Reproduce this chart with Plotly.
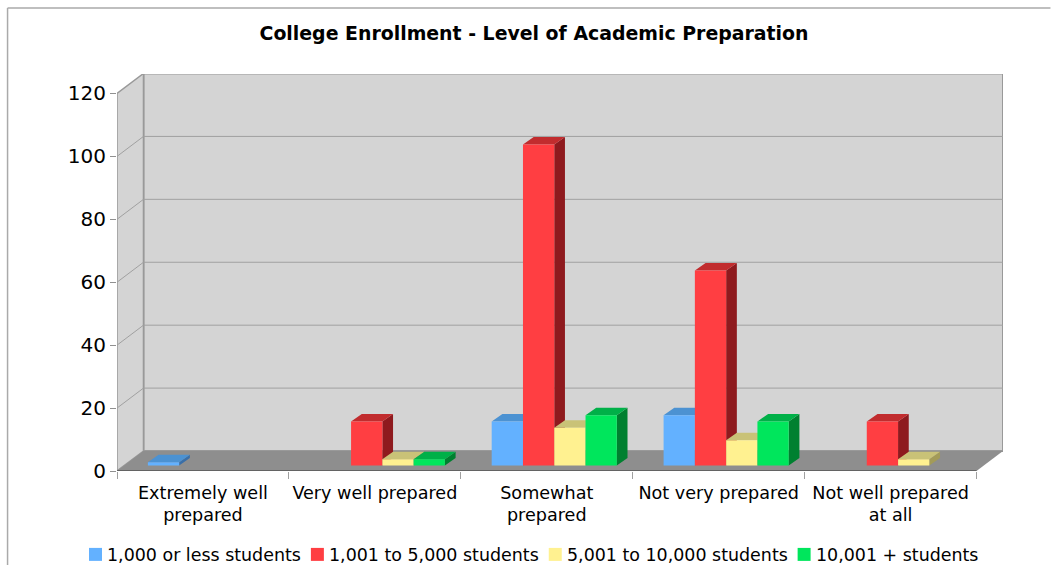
import plotly.graph_objects as go

title = "College Enrollment - Level of Academic Preparation"
categories = ["Extremely well<br>prepared", "Very well prepared", "Somewhat<br>prepared",
              "Not very prepared", "Not well prepared<br>at all"]
series_names = ["1,000 or less students", "1,001 to 5,000 students",
                "5,001 to 10,000 students", "10,001 + students"]
small_school = [1, 0, 14, 16, 0]
medium_school = [0, 14, 102, 62, 14]
large_school = [0, 2, 12, 8, 2]
largest_school = [0, 2, 16, 14, 0]
y_ticks = [0, 20, 40, 60, 80, 100, 120]

front_colors = ["#63b1ff", "#ff3e42", "#fff190", "#00e65c"]
top_colors = ["#4c92d2", "#c12c2e", "#c9c277", "#00b048"]
side_colors = ["#3a6fa8", "#8e1a1e", "#a39b58", "#008030"]

# pixel geometry of the oblique projection
L, R, T, B = 117.0, 1003.5, 73.5, 471.0
PX_X = 172.0      # px per category
PX_Y = 3.15       # px per value unit
W, H = 1051, 565
sx = lambda px: px / PX_X
sy = lambda px: px / PX_Y
wall_dx, wall_dy = sx(26.5), sy(20)
lift_dx, lift_dy = sx(7.5), sy(5.5)
bar_dx, bar_dy = sx(10.7), sy(7.5)
bar_w = sx(31.3)
n_cat = len(categories)

fig = go.Figure()


def add_face(xs, ys, color, name):
    fig.add_trace(go.Scatter(x=xs, y=ys, mode="lines", fill="toself", fillcolor=color,
                             line=dict(width=0, color=color), name=name,
                             hoverinfo="skip", showlegend=False))


all_series = [small_school, medium_school, large_school, largest_school]
for s, values in enumerate(all_series):
    side_x, side_y, top_x, top_y, front_x, front_y = [], [], [], [], [], []
    for c, v in enumerate(values):
        if v == 0:
            continue
        x0 = c + 0.5 - 2 * bar_w + s * bar_w + lift_dx
        x1 = x0 + bar_w
        y0 = lift_dy
        y1 = lift_dy + v
        side_x += [x1, x1 + bar_dx, x1 + bar_dx, x1, x1, None]
        side_y += [y0, y0 + bar_dy, y1 + bar_dy, y1, y0, None]
        top_x += [x0, x1, x1 + bar_dx, x0 + bar_dx, x0, None]
        top_y += [y1, y1, y1 + bar_dy, y1 + bar_dy, y1, None]
        front_x += [x0, x1, x1, x0, x0, None]
        front_y += [y0, y0, y1, y1, y0, None]
    add_face(side_x, side_y, side_colors[s], series_names[s] + " side")
    add_face(top_x, top_y, top_colors[s], series_names[s] + " top")
    add_face(front_x, front_y, front_colors[s], series_names[s])

WALL, FLOOR, EDGE, GRID = "#d4d4d4", "#8e8e8e", "#999999", "#a0a0a0"
ymax = y_ticks[-1]
shapes = [
    dict(type="rect", x0=wall_dx, x1=n_cat + wall_dx, y0=wall_dy, y1=ymax + wall_dy,
         fillcolor=WALL, line=dict(color=EDGE, width=2), layer="below"),
    dict(type="path", layer="below", fillcolor=WALL, line=dict(color=EDGE, width=1.5),
         path=f"M0,0 L{wall_dx},{wall_dy} L{wall_dx},{ymax + wall_dy} L0,{ymax} Z"),
]
for v in y_ticks[1:-1]:
    shapes.append(dict(type="line", x0=0, y0=v, x1=wall_dx, y1=v + wall_dy,
                       line=dict(color=GRID, width=1), layer="below"))
    shapes.append(dict(type="line", x0=wall_dx, y0=v + wall_dy, x1=n_cat + wall_dx, y1=v + wall_dy,
                       line=dict(color=GRID, width=1), layer="below"))
shapes.append(dict(type="path", layer="below", fillcolor=FLOOR, line=dict(width=0),
                   path=f"M0,0 L{n_cat},0 L{n_cat + wall_dx},{wall_dy} L{wall_dx},{wall_dy} Z"))
shapes.append(dict(type="line", x0=0, x1=n_cat, y0=0, y1=0, line=dict(color="#555555", width=1.5),
                   layer="below"))


def px(v):
    return (v - L) / (R - L)


def py(v):
    return (B - v) / (B - T)


# outer frame of the picture
shapes.append(dict(type="line", xref="paper", yref="paper", x0=px(7.5), x1=px(W), y0=py(7.5), y1=py(7.5),
                   line=dict(color="#aaaaaa", width=1.5)))
shapes.append(dict(type="line", xref="paper", yref="paper", x0=px(7.5), x1=px(7.5), y0=py(7.5), y1=py(H),
                   line=dict(color="#aaaaaa", width=1.5)))

# compact legend row
legend_left = [89, 311, 549, 798]
annotations = []
for name, color, left in zip(series_names, front_colors, legend_left):
    shapes.append(dict(type="rect", xref="paper", yref="paper", x0=px(left), x1=px(left + 13),
                       y0=py(548), y1=py(561), fillcolor=color, line=dict(width=0)))
    annotations.append(dict(text=name, xref="paper", yref="paper", x=px(left + 16), y=py(555),
                            xanchor="left", yanchor="middle", showarrow=False,
                            font=dict(family="DejaVu Sans", size=17.45, color="#000000")))

fig.update_layout(
    width=W, height=H, autosize=False, showlegend=False,
    margin=dict(l=L, r=W - R, t=T, b=H - B, pad=0),
    paper_bgcolor="white", plot_bgcolor="white",
    font=dict(family="DejaVu Sans", color="#000000"),
    title=dict(text="<b>" + title + "</b>", x=534 / W, y=1 - 33 / H, xref="container", yref="container",
               xanchor="center", yanchor="middle", font=dict(family="DejaVu Sans", size=18.9, color="#000000")),
    shapes=shapes, annotations=annotations,
    xaxis=dict(range=[0, (R - L) / PX_X], showgrid=False, zeroline=False, showline=False,
               tickmode="array", tickvals=[c + 0.5 for c in range(n_cat)], ticktext=categories,
               ticks="", ticklen=0, tickfont=dict(size=17.6), tickangle=0, ticklabelstandoff=9,
               minor=dict(tickmode="array", tickvals=list(range(n_cat + 1)), ticks="outside", ticklen=7,
                          tickcolor="#a0a0a0", tickwidth=1, showgrid=False)),
    yaxis=dict(range=[0, (B - T) / PX_Y], showgrid=False, zeroline=False, showline=False,
               tickmode="array", tickvals=y_ticks, ticks="outside", ticklen=6, tickcolor="#909090",
               tickwidth=1, tickfont=dict(size=20)),
)

fig.write_html("out.html", config=dict(displayModeBar=False),
               post_script="document.body.style.margin='0';document.body.style.overflow='hidden';")
